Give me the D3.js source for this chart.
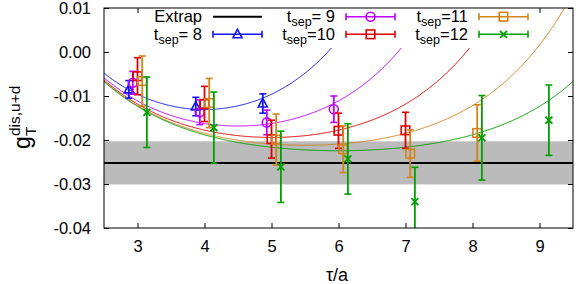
<!DOCTYPE html>
<html><head><meta charset="utf-8">
<script src="https://cdn.jsdelivr.net/npm/d3@7"></script>
<style>body{margin:0;background:#fff}svg{display:block;font-family:"Liberation Sans",Arial,sans-serif}</style>
</head><body>
<svg id="c" width="581" height="284"></svg>
<script>
// ---- data ----
const tsepLabels = ["8", "9", "10", "11", "12"];
const tau8  = [3, 4, 5];
const val8  = [-0.0085, -0.0124, -0.0117];
const err8  = [0.0020, 0.0021, 0.0022];
const tau9  = [3, 4, 5, 6];
const val9  = [-0.0070, -0.0137, -0.0160, -0.0130];
const err9  = [0.0026, 0.0028, 0.0028, 0.0030];
const tau10 = [3, 4, 5, 6, 7];
const val10 = [-0.0055, -0.0118, -0.0198, -0.0179, -0.0178];
const err10 = [0.0042, 0.0040, 0.0043, 0.0040, 0.0041];
const tau11 = [3, 4, 5, 6, 7, 8];
const val11 = [-0.0066, -0.0116, -0.0199, -0.0221, -0.0231, -0.0184];
const err11 = [0.0057, 0.0056, 0.0058, 0.0053, 0.0054, 0.0064];
const tau12 = [3, 4, 5, 6, 7, 8, 9];
const val12 = [-0.0137, -0.0172, -0.0261, -0.0243, -0.0340, -0.0195, -0.0155];
const err12 = [0.0080, 0.0081, 0.0081, 0.0080, 0.0078, 0.0096, 0.0080];
const tauShift = [-0.13, -0.07, 0, 0.07, 0.14];
// two-state fit parameters: g + b1*(exp(-dE*tau) + exp(-dE*(tsep-tau)))
const fitG = -0.0252, fitB1 = 0.117, fitDE = 0.74;
const extrapMid = -0.0252, extrapErr = 0.0049;
const xTicks = [3, 4, 5, 6, 7, 8, 9];
const xTickLabels = ["3", "4", "5", "6", "7", "8", "9"];
const yTicks = [-0.04, -0.03, -0.02, -0.01, 0.00, 0.01];
const yTickLabels = ["-0.04", "-0.03", "-0.02", "-0.01", "0.00", "0.01"];

const colors = ["#1414f0", "#c000ff", "#e00000", "#d4831a", "#00a000"];
const markers = ["tri", "circ", "sq", "sq", "x"];

const series = [
  {tsep: 8,  tau: tau8,  val: val8,  err: err8},
  {tsep: 9,  tau: tau9,  val: val9,  err: err9},
  {tsep: 10, tau: tau10, val: val10, err: err10},
  {tsep: 11, tau: tau11, val: val11, err: err11},
  {tsep: 12, tau: tau12, val: val12, err: err12}
];

const L = 104, R = 573, T = 8, B = 228;
const x = d3.scaleLinear().domain([2.5, 9.5]).range([L, R]);
const y = d3.scaleLinear().domain([-0.04, 0.01]).range([B, T]);
const svg = d3.select("#c");
const FS = 16.5;

svg.append("clipPath").attr("id", "clip").append("rect")
  .attr("x", L).attr("y", T).attr("width", R - L).attr("height", B - T);
const plot = svg.append("g").attr("clip-path", "url(#clip)");

// band + extrap line
plot.append("rect").attr("x", L).attr("width", R - L)
  .attr("y", y(extrapMid + extrapErr)).attr("height", y(extrapMid - extrapErr) - y(extrapMid + extrapErr))
  .attr("fill", "#bbbbbb");
plot.append("line").attr("x1", L).attr("x2", R).attr("y1", y(extrapMid)).attr("y2", y(extrapMid))
  .attr("stroke", "#000").attr("stroke-width", 2);

// fit curves
const grid = d3.range(0, 701).map(i => 2.5 + i * 0.01);
series.forEach((s, i) => {
  const f = t => fitG + fitB1 * (Math.exp(-fitDE * t) + Math.exp(-fitDE * (s.tsep - t)));
  const pts = grid.map(t => [t, f(t)]).filter(p => p[1] < 0.02);
  plot.append("path").datum(pts)
    .attr("d", d3.line().x(p => x(p[0])).y(p => y(p[1])))
    .attr("fill", "none").attr("stroke", colors[i]).attr("stroke-width", 1);
});

function marker(g, type, cx, cy, col) {
  if (type === "tri") {
    g.append("path").attr("d", `M${cx},${cy - 5}L${cx + 4.5},${cy + 3.5}L${cx - 4.5},${cy + 3.5}Z`)
      .attr("fill", "none").attr("stroke", col).attr("stroke-width", 1.6);
  } else if (type === "circ") {
    g.append("circle").attr("cx", cx).attr("cy", cy).attr("r", 4.5)
      .attr("fill", "none").attr("stroke", col).attr("stroke-width", 1.6);
  } else if (type === "sq") {
    g.append("rect").attr("x", cx - 4.3).attr("y", cy - 4.3).attr("width", 8.6).attr("height", 8.6)
      .attr("fill", "none").attr("stroke", col).attr("stroke-width", 1.6);
  } else {
    g.append("path").attr("d", `M${cx - 3.5},${cy - 3.5}L${cx + 3.5},${cy + 3.5}M${cx - 3.5},${cy + 3.5}L${cx + 3.5},${cy - 3.5}`)
      .attr("stroke", col).attr("stroke-width", 1.8);
  }
}

// data points
series.forEach((s, i) => {
  const g = plot.append("g");
  s.tau.forEach((t, j) => {
    const cx = x(t + tauShift[i]);
    const y1 = y(s.val[j] + s.err[j]), y2 = y(s.val[j] - s.err[j]);
    g.append("line").attr("x1", cx).attr("x2", cx).attr("y1", y1).attr("y2", y2)
      .attr("stroke", colors[i]).attr("stroke-width", 1.8);
    [y1, y2].forEach(yy => g.append("line").attr("x1", cx - 3.5).attr("x2", cx + 3.5)
      .attr("y1", yy).attr("y2", yy).attr("stroke", colors[i]).attr("stroke-width", 1.6));
    marker(g, markers[i], cx, y(s.val[j]), colors[i]);
  });
});

// axes ticks (inward, mirrored)
const axB = d3.axisBottom(x).tickValues(xTicks).tickFormat((d, i) => xTickLabels[i]).tickSizeInner(-5).tickSizeOuter(0).tickPadding(12);
const axT = d3.axisTop(x).tickValues(xTicks).tickFormat("").tickSizeInner(-5).tickSizeOuter(0);
const axLf = d3.axisLeft(y).tickValues(yTicks).tickFormat((d, i) => yTickLabels[i]).tickSizeInner(-5).tickSizeOuter(0).tickPadding(13);
const axRt = d3.axisRight(y).tickValues(yTicks).tickFormat("").tickSizeInner(-5).tickSizeOuter(0);
function styleAx(g) {
  g.select(".domain").remove();
  g.selectAll("line").attr("stroke", "#000").attr("stroke-width", 1);
  g.selectAll("text").attr("font-size", FS).attr("font-family", "Liberation Sans, Arial, sans-serif").attr("fill", "#000");
}
svg.append("g").attr("transform", `translate(0,${B})`).call(axB).call(styleAx);
svg.append("g").attr("transform", `translate(0,${T})`).call(axT).call(styleAx);
svg.append("g").attr("transform", `translate(${L},0)`).call(axLf).call(styleAx);
svg.append("g").attr("transform", `translate(${R},0)`).call(axRt).call(styleAx);

// legend (opaque)
svg.append("rect").attr("x", 145).attr("y", T).attr("width", 390).attr("height", 40).attr("fill", "#fff");
const rowY = [16.7, 34.3];
const colTextEnd = [202, 335, 468];
const colSample = [[213, 262], [346, 395], [479, 528]];
const legendItems = [
  {label: "Extrap", col: 0, row: 0, s: -1},
  {label: tsepLabels[0], col: 0, row: 1, s: 0},
  {label: tsepLabels[1], col: 1, row: 0, s: 1},
  {label: tsepLabels[2], col: 1, row: 1, s: 2},
  {label: tsepLabels[3], col: 2, row: 0, s: 3},
  {label: tsepLabels[4], col: 2, row: 1, s: 4}
];
legendItems.forEach(it => {
  const yy = rowY[it.row];
  const tx = svg.append("text").attr("x", colTextEnd[it.col]).attr("y", yy + 5.5)
    .attr("text-anchor", "end").attr("font-size", FS).attr("fill", "#000");
  if (it.s < 0) {
    tx.text(it.label);
    svg.append("line").attr("x1", colSample[it.col][0]).attr("x2", colSample[it.col][1])
      .attr("y1", yy).attr("y2", yy).attr("stroke", "#000").attr("stroke-width", 2);
  } else {
    tx.append("tspan").text("t");
    tx.append("tspan").text("sep").attr("font-size", 12.5).attr("dy", 4);
    tx.append("tspan").text(it.label.length < 2 ? "= " + it.label : "=" + it.label).attr("dy", -4);
    const c = colors[it.s];
    const [a, b] = colSample[it.col];
    svg.append("line").attr("x1", a).attr("x2", b).attr("y1", yy).attr("y2", yy).attr("stroke", c).attr("stroke-width", 1.6);
    [a, b].forEach(xx => svg.append("line").attr("x1", xx).attr("x2", xx).attr("y1", yy - 3.5).attr("y2", yy + 3.5).attr("stroke", c).attr("stroke-width", 1.6));
    marker(svg, markers[it.s], (a + b) / 2, yy, c);
  }
});

// border
svg.append("rect").attr("x", L).attr("y", T).attr("width", R - L).attr("height", B - T)
  .attr("fill", "none").attr("stroke", "#000").attr("stroke-width", 1);

// axis labels
svg.append("text").attr("x", 337).attr("y", 281).attr("text-anchor", "middle").attr("font-size", 18).text("τ/a");
const yl = svg.append("g").attr("transform", "translate(30,149) rotate(-90)");
yl.append("text").attr("x", 0).attr("y", 0).attr("font-size", 23).text("g");
yl.append("text").attr("x", 13).attr("y", 6).attr("font-size", 15.5).text("T");
yl.append("text").attr("x", 13).attr("y", -10.5).attr("font-size", 15.5).text("dis,u+d");
</script>
</body></html>
